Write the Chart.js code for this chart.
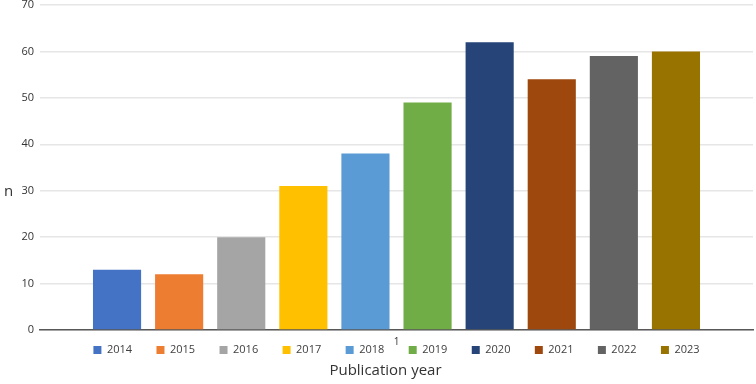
<!DOCTYPE html>
<html>
<head>
<meta charset="utf-8">
<script src="https://cdn.jsdelivr.net/npm/chart.js@4"></script>
<style>
  html, body { margin: 0; padding: 0; background: #fff; }
  #wrap { width: 756px; height: 384px; }
</style>
</head>
<body>
<div id="wrap"><canvas id="chart"></canvas></div>
<script>
const categories = ['1'];
const years = ['2014', '2015', '2016', '2017', '2018', '2019', '2020', '2021', '2022', '2023'];
const counts = [13, 12, 20, 31, 38, 49, 62, 54, 59, 60];
const colors = ['#4472C4', '#ED7D31', '#A5A5A5', '#FFC000', '#5B9BD5', '#70AD47', '#264478', '#9E480E', '#636363', '#997300'];
const yTicks = [0, 10, 20, 30, 40, 50, 60, 70];

const FONT = "'Open Sans', 'Liberation Sans', sans-serif";

// the "n" label sits upright to the left of the axis
const yLabel = {
  id: 'yLabel',
  afterDraw(chart) {
    const ctx = chart.ctx;
    const y = chart.scales.y;
    ctx.save();
    ctx.font = '15px ' + FONT;
    ctx.fillStyle = '#333';
    ctx.textAlign = 'left';
    ctx.textBaseline = 'middle';
    ctx.fillText('n', 4, y.top + (y.bottom - y.top) * 0.575);
    ctx.restore();
  }
};

// legend rows sit right under the axis, tucked up next to the "1" tick
const legendShift = {
  id: 'legendShift',
  afterLayout(chart) {
    const lg = chart.legend;
    const pad = lg.options.labels.padding;
    lg.top = chart.chartArea.bottom + 14.5 - pad;
    lg.bottom = lg.top + pad * 2 + 14;
  }
};

const datasets = years.map((yr, i) => ({
  label: yr,
  data: [counts[i]],
  backgroundColor: colors[i],
  borderWidth: 0,
  categoryPercentage: 0.871,
  barPercentage: 0.775
}));

new Chart(document.getElementById('chart'), {
  type: 'bar',
  data: { labels: categories, datasets: datasets },
  plugins: [yLabel, legendShift],
  options: {
    responsive: true,
    maintainAspectRatio: false,
    animation: false,
    layout: { padding: { left: 18, right: 3, top: 0, bottom: 2 } },
    plugins: {
      tooltip: { enabled: false },
      legend: {
        position: 'bottom',
        fullSize: false,
        maxHeight: 8,
        labels: {
          boxWidth: 8,
          boxHeight: 8,
          padding: 24.4,
          color: '#404040',
          font: { family: FONT, size: 11 }
        }
      },
      title: {
        display: true,
        position: 'bottom',
        text: 'Publication year',
        color: '#333',
        font: { family: FONT, size: 15, weight: 'normal' },
        padding: { top: 0, bottom: 2 }
      }
    },
    scales: {
      x: {
        grid: { display: false, drawTicks: false },
        border: { display: true, color: '#595959', width: 1.5 },
        ticks: { color: '#333', font: { family: FONT, size: 10 }, padding: 6 }
      },
      y: {
        min: 0,
        max: 70,
        afterBuildTicks(scale) { scale.ticks = yTicks.map(v => ({ value: v })); },
        afterFit(scale) { scale.width = 22; scale.paddingTop = 5; },
        grid: { color: '#e6e6e6', lineWidth: 1.5, drawTicks: false },
        border: { display: false },
        ticks: { color: '#333', font: { family: FONT, size: 11 }, padding: 6 }
      }
    }
  }
});
</script>
</body>
</html>
